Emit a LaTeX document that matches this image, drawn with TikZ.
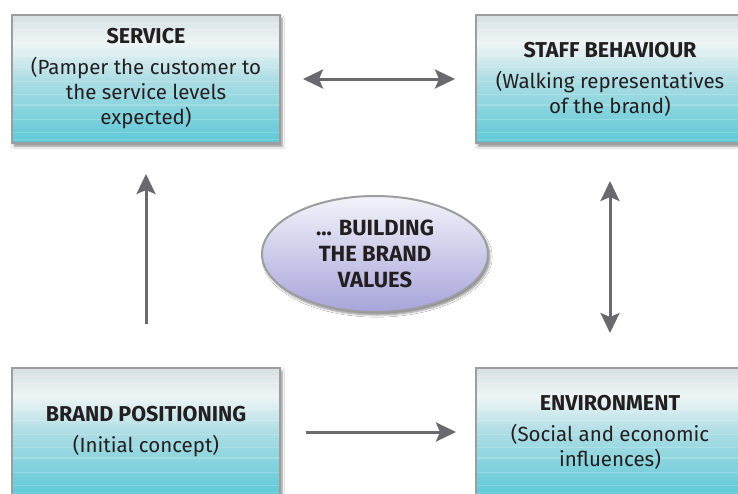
\documentclass[tikz,border=0pt]{standalone}
\usepackage{fontspec}
\setmainfont{Fira Sans}
\usetikzlibrary{arrows.meta,shapes.geometric,shadows.blur}
\definecolor{BoxTopClr}{HTML}{D6E0E3}
\definecolor{BoxLightClr}{HTML}{EEF5F6}
\definecolor{BoxMidClr}{HTML}{AEDDE4}
\definecolor{BoxBotClr}{HTML}{5CC9D7}
\definecolor{EdgeClr}{HTML}{9D9DA0}
\definecolor{ArrowClr}{HTML}{6A6A6E}
\definecolor{OvalTopClr}{HTML}{F3F3FA}
\definecolor{OvalBotClr}{HTML}{A7A4DA}
\definecolor{TextClr}{HTML}{231F20}
\newcommand{\BoxTitle}[1]{{\bfseries\fontsize{21.5}{25}\selectfont #1}}

\pgfdeclareverticalshading{boxshade}{100bp}{color(0bp)=(BoxBotClr); color(25bp)=(BoxBotClr);
  color(50bp)=(BoxMidClr); color(64bp)=(BoxLightClr); color(75bp)=(BoxTopClr); color(100bp)=(BoxTopClr)}

\begin{document}
\begin{tikzpicture}[x=1pt,y=-1pt,
  brandbox/.style={draw=EdgeClr,line width=2pt,inner sep=0pt,
    minimum width=268pt,minimum height=128pt,align=center,text=TextClr,
    font=\fontsize{20.5}{25}\selectfont,shading=boxshade,
    blur shadow={shadow xshift=2pt,shadow yshift=-3pt,shadow blur steps=6,shadow opacity=45},
    path picture={\foreach \h/\w in {8/.6,15/1.2,27/.8,41/1.4,52/.6,66/1,79/.7,90/1.3,104/.6,117/1,124/.7}
      \draw[white,opacity=.18,line width=\w pt]
        ([yshift=-\h pt]path picture bounding box.north west) --
        ([yshift=-\h pt]path picture bounding box.north east);}},
  valueoval/.style={ellipse,draw=EdgeClr,line width=2pt,inner sep=0pt,
    minimum width=226pt,minimum height=116pt,align=center,text=TextClr,
    font=\bfseries\fontsize{22}{26}\selectfont,
    top color=OvalTopClr,bottom color=OvalBotClr,
    blur shadow={shadow xshift=2pt,shadow yshift=-3pt,shadow blur steps=6,shadow opacity=45}},
  linkarrow/.style={draw=ArrowClr,line width=3pt}]

\clip (0,0) rectangle (738,493);
\fill[white] (0,0) rectangle (738,493);

% the four boxes
\node[brandbox] (service) at (146,79) {\BoxTitle{SERVICE}\\[6pt](Pamper the customer to\\the service levels\\expected)};
\node[brandbox] (staff) at (610,79) {\BoxTitle{STAFF BEHAVIOUR}\\[6pt](Walking representatives\\of the brand)};
\node[brandbox] (position) at (146,432) {\BoxTitle{BRAND POSITIONING}\\[6pt](Initial concept)};
\node[brandbox] (environ) at (610,432) {\BoxTitle{ENVIRONMENT}\\[6pt](Social and economic\\influences)};

% centre oval
\node[valueoval] (values) at (375,254) {... BUILDING\\THE BRAND\\VALUES};

% arrows
\draw[linkarrow,{Stealth[length=20pt,width=19pt,inset=4pt]}-{Stealth[length=20pt,width=19pt,inset=4pt]},
  shorten <=22pt,shorten >=20pt] (service.east) -- (staff.west);
\draw[linkarrow,-{Stealth[length=20pt,width=19pt,inset=4pt]},
  shorten <=43pt,shorten >=30pt] (position.north) -- (service.south);
\draw[linkarrow,{Stealth[length=20pt,width=19pt,inset=4pt]}-{Stealth[length=20pt,width=19pt,inset=4pt]},
  shorten <=37pt,shorten >=34pt] (staff.south) -- (environ.north);
\draw[linkarrow,-{Stealth[length=20pt,width=19pt,inset=4pt]},
  shorten <=25pt,shorten >=19pt] (position.east) -- (environ.west);

\end{tikzpicture}
\end{document}
